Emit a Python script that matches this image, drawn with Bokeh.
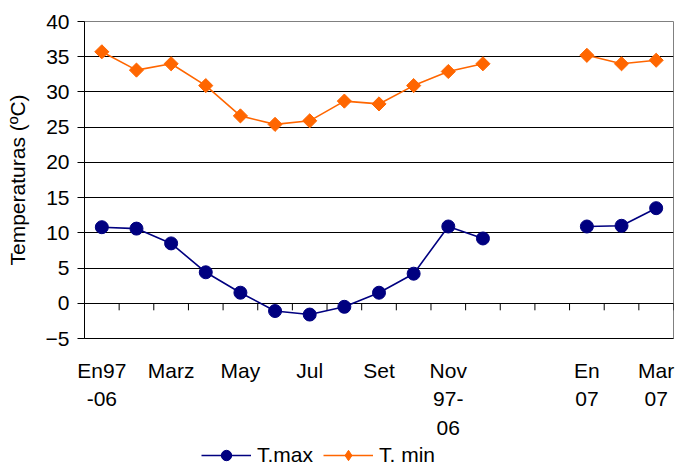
import math
from bokeh.plotting import figure
from bokeh.layouts import column
from bokeh.models import FixedTicker, Legend, LegendItem, Range1d
from bokeh.embed import file_html
from bokeh.resources import INLINE

nan = float("nan")
# 17 category slots: 12 months (1997-2006 averages), 2 empty slots, 3 months of 2007
categories = ["En97-06", "Feb", "Marz", "Abr", "May", "Jun", "Jul", "Ago", "Set", "Oct",
              "Nov 97-06", "Dic", "", "", "En 07", "Feb 07", "Mar 07"]
tick_labels = {0: "En97\n-06", 2: "Marz", 4: "May", 6: "Jul", 8: "Set",
               10: "Nov\n97-\n06", 14: "En\n07", 16: "Mar\n07"}
t_max = [10.8, 10.6, 8.5, 4.4, 1.5, -1.1, -1.6, -0.5, 1.5, 4.2, 10.9, 9.2,
         nan, nan, 10.9, 11.0, 13.5]
t_min = [35.7, 33.1, 34.0, 30.9, 26.6, 25.4, 25.9, 28.7, 28.3, 30.9, 32.9, 34.0,
         nan, nan, 35.2, 34.0, 34.5]
y_ticks = [-5, 0, 5, 10, 15, 20, 25, 30, 35, 40]
series_names = ["T.max", "T. min"]

NAVY = "#000080"
ORANGE = "#FF6600"
FONT = "Liberation Sans"

x = [i + 0.5 for i in range(len(categories))]


def add_series(fig, visible=True, legend_copy=False):
    l1 = fig.line(x, t_max, line_color=NAVY, line_width=1.6, visible=visible)
    s1 = fig.scatter(x, t_max, marker="circle", size=13, fill_color=NAVY,
                     line_color=NAVY, visible=visible)
    l2 = fig.line(x, t_min, line_color=ORANGE, line_width=1.6, visible=visible)
    if legend_copy:
        s2 = fig.scatter(x, t_min, marker="diamond", size=14, fill_color=ORANGE,
                         line_color=ORANGE, visible=visible)
    else:
        s2 = fig.scatter(x, t_min, marker="square", size=10, angle=math.pi / 4,
                         fill_color=ORANGE, line_color=ORANGE, visible=visible)
    return [[l1, s1], [l2, s2]]


p = figure(width=680, height=442, output_backend="svg", toolbar_location=None,
           x_range=Range1d(0, len(categories)), y_range=Range1d(-5, 40),
           min_border_left=84, min_border_right=7, min_border_top=21, min_border_bottom=103)
p.background_fill_color = "white"
p.border_fill_color = "white"
p.outline_line_color = "#808080"

# y axis
p.yaxis.ticker = FixedTicker(ticks=y_ticks)
p.yaxis.axis_label = "Temperaturas (ºC)"
p.yaxis.axis_label_text_font = FONT
p.yaxis.axis_label_text_font_size = "21px"
p.yaxis.axis_label_text_font_style = "normal"
p.yaxis.axis_label_text_color = "black"
p.yaxis.axis_label_standoff = 14
p.yaxis.major_label_text_font = FONT
p.yaxis.major_label_text_font_size = "21px"
p.yaxis.major_label_text_color = "black"
p.yaxis.major_label_standoff = 8
p.yaxis.major_tick_out = 7
p.yaxis.major_tick_in = 0
p.yaxis.minor_tick_line_color = None
p.yaxis.axis_line_color = "black"
p.yaxis.major_tick_line_color = "black"

# x axis (labels only; ticks drawn at y=0)
p.xaxis.ticker = FixedTicker(ticks=[k + 0.5 for k in tick_labels])
p.xaxis.major_label_overrides = {k + 0.5: v for k, v in tick_labels.items()}
p.xaxis.major_label_text_font = FONT
p.xaxis.major_label_text_font_size = "21px"
p.xaxis.major_label_text_color = "black"
p.xaxis.major_label_text_line_height = 1.25
p.xaxis.major_label_standoff = 14
p.xaxis.major_tick_line_color = None
p.xaxis.minor_tick_line_color = None
p.xaxis.axis_line_color = "black"

p.xgrid.grid_line_color = None
p.ygrid.ticker = FixedTicker(ticks=y_ticks)
p.ygrid.grid_line_color = "black"
p.ygrid.grid_line_width = 1

# category tick marks on the zero line
bounds = list(range(1, len(categories) + 1))
p.segment(x0=bounds, y0=[0] * len(bounds), x1=bounds, y1=[-1.0] * len(bounds),
          line_color="black", line_width=1)

add_series(p)

# legend strip below the chart (hidden copies of the series supply the swatches)
q = figure(width=680, height=26, output_backend="svg", toolbar_location=None,
           x_range=Range1d(0, 1), y_range=Range1d(0, 1),
           x_axis_location=None, y_axis_location=None,
           min_border=0, min_border_left=0, min_border_right=0,
           min_border_top=0, min_border_bottom=0)
q.grid.visible = False
q.outline_line_color = None
q.background_fill_color = "white"
q.border_fill_color = "white"
legend_renderers = add_series(q, visible=False, legend_copy=True)
legend = Legend(items=[LegendItem(label=name, renderers=rs)
                       for name, rs in zip(series_names, legend_renderers)],
                orientation="horizontal", location=(117, 0),
                glyph_width=50, glyph_height=26, label_standoff=6, spacing=10,
                padding=0, margin=0, border_line_alpha=0, background_fill_alpha=0,
                inactive_fill_alpha=0,
                label_text_font=FONT, label_text_font_size="21px",
                label_text_color="black")
q.add_layout(legend, "center")

open("out.html", "w").write(file_html(column(p, q, spacing=0), INLINE))
